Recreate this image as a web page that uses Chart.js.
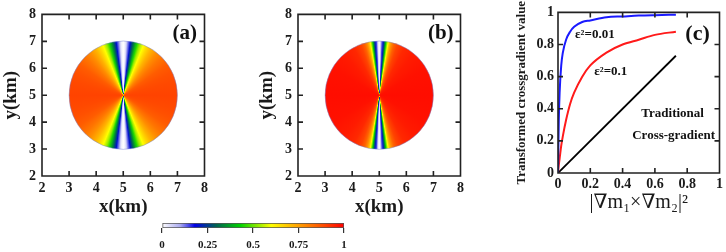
<!DOCTYPE html>
<html>
<head>
<meta charset="utf-8">
<script src="https://cdn.jsdelivr.net/npm/chart.js@4"></script>
<style>
  html, body { margin: 0; padding: 0; background: #fff; }
  body { width: 726px; height: 252px; position: relative; overflow: hidden; }
  canvas, svg.frame { position: absolute; }
  svg.frame { pointer-events: none; }
</style>
</head>
<body>
<canvas id="chartA" width="212" height="218" style="left:0;top:0"></canvas>
<canvas id="chartB" width="212" height="218" style="left:256px;top:0"></canvas>
<canvas id="chartC" width="221" height="218" style="left:505px;top:0"></canvas>
<canvas id="colorbar" width="205" height="37" style="left:150px;top:215px"></canvas>
<script>
// ---- data ----
const mapTicks = [2, 3, 4, 5, 6, 7, 8];
const circleCenter = [5, 5];   // km
const circleRadius = 2;        // km

// value vs angle from the vertical axis (deg), mirrored into all four quadrants
const wedgeAnglesA = [0, 2, 3.5, 5, 7.5, 10, 12, 15, 18, 22, 26, 31, 38, 45, 55, 65, 75, 90];
const wedgeValuesA = [0, 0.02, 0.06, 0.12, 0.2, 0.28, 0.35, 0.45, 0.53, 0.6, 0.66, 0.72, 0.78, 0.82, 0.86, 0.88, 0.89, 0.9];
const wedgeAnglesB = [0, 1, 2, 3, 4.5, 6, 7, 8, 9.5, 11, 13, 16, 20, 28, 40, 60, 90];
const wedgeValuesB = [0, 0.03, 0.1, 0.15, 0.22, 0.33, 0.42, 0.5, 0.6, 0.7, 0.78, 0.85, 0.9, 0.94, 0.96, 0.975, 0.98];

// colormap
const cmapStops = [0, 0.1, 0.18, 0.3, 0.43, 0.6, 0.75, 0.88, 1];
const cmapColors = [[255,255,255],[170,170,240],[0,0,230],[0,100,80],[0,210,0],[255,255,0],[255,160,0],[255,80,0],[255,0,0]];
const colorbarTicks = [0, 0.25, 0.5, 0.75, 1];

// panel (c)
const gradTicks = [0, 0.2, 0.4, 0.6, 0.8, 1];
const crossX = [0, 0.005, 0.01, 0.02, 0.03, 0.05, 0.075, 0.1, 0.15, 0.2, 0.3, 0.4, 0.5, 0.6, 0.73];
const eps001 = [0, 0.33, 0.5, 0.67, 0.75, 0.83, 0.88, 0.91, 0.94, 0.95, 0.97, 0.975, 0.98, 0.983, 0.986];
const eps01  = [0, 0.05, 0.09, 0.17, 0.23, 0.33, 0.43, 0.5, 0.6, 0.67, 0.75, 0.8, 0.83, 0.86, 0.88];
const traditionalX = [0, 0.73];
const traditionalY = [0, 0.73];

Chart.defaults.font.family = "'Liberation Serif', 'DejaVu Serif', serif";
Chart.defaults.font.weight = 'bold';
Chart.defaults.font.size = 14;
Chart.defaults.color = '#1a1a1a';
Chart.defaults.animation = false;
Chart.defaults.plugins.legend.display = false;
Chart.defaults.plugins.tooltip.enabled = false;

function colorAt(v) {
    for (let i = 1; i < cmapStops.length; i++) {
        if (v <= cmapStops[i]) {
            const t = (v - cmapStops[i - 1]) / (cmapStops[i] - cmapStops[i - 1]);
            const a = cmapColors[i - 1], b = cmapColors[i];
            const c = a.map((ch, k) => Math.round(ch + (b[k] - ch) * t));
            return `rgb(${c[0]},${c[1]},${c[2]})`;
        }
    }
    const l = cmapColors[cmapColors.length - 1];
    return `rgb(${l[0]},${l[1]},${l[2]})`;
}

// disc coloured by angle
const wedgePlugin = {
    id: 'wedge',
    beforeDatasetsDraw(chart, args, opts) {
        if (!opts.angles) return;
        const {ctx, scales: {x, y}} = chart;
        const cx = x.getPixelForValue(circleCenter[0]);
        const cy = y.getPixelForValue(circleCenter[1]);
        const r = x.getPixelForValue(circleCenter[0] + circleRadius) - cx;
        const g = ctx.createConicGradient(-Math.PI / 2, cx, cy);
        opts.angles.forEach((ang, i) => {
            const col = colorAt(opts.values[i]);
            [ang, 180 - ang, 180 + ang, 360 - ang].forEach(d => g.addColorStop(d / 360, col));
        });
        ctx.save();
        ctx.beginPath();
        ctx.arc(cx, cy, r, 0, Math.PI * 2);
        ctx.fillStyle = g;
        ctx.fill();
        ctx.lineWidth = 0.8;
        ctx.strokeStyle = 'rgba(120,130,210,0.6)';
        ctx.stroke();
        ctx.restore();
    }
};

// text labels in data coordinates
const textPlugin = {
    id: 'texts',
    afterDraw(chart, args, opts) {
        const {ctx, scales: {x, y}} = chart;
        ctx.save();
        ctx.fillStyle = '#111';
        ctx.textAlign = 'center';
        ctx.textBaseline = 'middle';
        (opts.items || []).forEach(it => {
            ctx.font = it.font;
            ctx.fillText(it.text, x.getPixelForValue(it.x), y.getPixelForValue(it.y));
        });
        ctx.restore();
    }
};

// box + inward ticks as an svg layer over the canvas, placed from the chart's own scales
function addFrame(chart) {
    const canvas = chart.canvas;
    const a = chart.chartArea;
    const xs = chart.scales.x, ys = chart.scales.y;
    const len = 5;
    const ns = 'http://www.w3.org/2000/svg';
    const svg = document.createElementNS(ns, 'svg');
    svg.setAttribute('class', 'frame');
    svg.setAttribute('width', canvas.width);
    svg.setAttribute('height', canvas.height);
    svg.style.left = canvas.style.left;
    svg.style.top = canvas.style.top;
    let d = `M${a.left},${a.top}H${a.right}V${a.bottom}H${a.left}Z`;
    xs.ticks.forEach(t => {
        const px = xs.getPixelForValue(t.value);
        d += `M${px},${a.bottom}v${-len}M${px},${a.top}v${len}`;
    });
    ys.ticks.forEach(t => {
        const py = ys.getPixelForValue(t.value);
        d += `M${a.left},${py}h${len}M${a.right},${py}h${-len}`;
    });
    const path = document.createElementNS(ns, 'path');
    path.setAttribute('d', d);
    path.setAttribute('fill', 'none');
    path.setAttribute('stroke', '#222');
    path.setAttribute('stroke-width', '1.6');
    svg.appendChild(path);
    document.body.appendChild(svg);
}

function setTicks(arr) {
    return scale => { scale.ticks = arr.map(v => ({value: v})); };
}
const plainLabel = v => String(v);

function mapChart(id, angles, values, tag) {
    return new Chart(document.getElementById(id), {
        type: 'scatter',
        data: {datasets: []},
        options: {
            responsive: false,
            layout: {padding: {top: 12, right: 6}},
            scales: {
                x: {
                    type: 'linear', min: 2, max: 8,
                    afterBuildTicks: setTicks(mapTicks),
                    afterFit: s => { s.height = 42; },
                    grid: {display: false, drawTicks: false},
                    border: {display: false},
                    ticks: {padding: 4, font: {size: 14}, callback: plainLabel},
                    title: {display: true, text: 'x(km)', font: {size: 19, weight: 'bold'}, padding: 0}
                },
                y: {
                    type: 'linear', min: 2, max: 8,
                    afterBuildTicks: setTicks(mapTicks),
                    afterFit: s => { s.width = 42; },
                    grid: {display: false, drawTicks: false},
                    border: {display: false},
                    ticks: {padding: 6, font: {size: 14}, callback: plainLabel},
                    title: {display: true, text: 'y(km)', font: {size: 19, weight: 'bold'}, padding: 0}
                }
            },
            plugins: {
                wedge: {angles: angles, values: values},
                texts: {items: [{text: tag, x: 7.27, y: 7.27, font: "bold 21px 'Liberation Serif', serif"}]}
            }
        },
        plugins: [wedgePlugin, textPlugin]
    });
}

const chartA = mapChart('chartA', wedgeAnglesA, wedgeValuesA, '(a)');
const chartB = mapChart('chartB', wedgeAnglesB, wedgeValuesB, '(b)');

const toPoints = (xs, ys) => xs.map((v, i) => ({x: v, y: ys[i]}));

const chartC = new Chart(document.getElementById('chartC'), {
    type: 'line',
    data: {
        datasets: [
            {data: toPoints(crossX, eps001), borderColor: '#1a1aff', borderWidth: 2, cubicInterpolationMode: 'monotone'},
            {data: toPoints(crossX, eps01), borderColor: '#ff1a1a', borderWidth: 2, cubicInterpolationMode: 'monotone'},
            {data: toPoints(traditionalX, traditionalY), borderColor: '#000', borderWidth: 1.8}
        ]
    },
    options: {
        responsive: false,
        layout: {padding: {top: 10, right: 6}},
        elements: {point: {radius: 0}},
        scales: {
            x: {
                type: 'linear', min: 0, max: 1,
                afterBuildTicks: setTicks(gradTicks),
                afterFit: s => { s.height = 45; },
                grid: {display: false, drawTicks: false},
                border: {display: false},
                ticks: {padding: 3, font: {size: 14}, callback: plainLabel},
                title: {display: true, text: '|∇m₁×∇m₂|²', font: {size: 20, weight: 'normal'}, padding: {top: 0, bottom: 3}}
            },
            y: {
                type: 'linear', min: 0, max: 1,
                afterBuildTicks: setTicks(gradTicks),
                afterFit: s => { s.width = 53; },
                grid: {display: false, drawTicks: false},
                border: {display: false},
                ticks: {padding: 4, font: {size: 14}, callback: plainLabel},
                title: {display: true, text: 'Transformed crossgradient value', font: {size: 13, weight: 'bold'}, padding: {top: 9, bottom: 0}}
            }
        },
        plugins: {
            texts: {items: [
                {text: '(c)', x: 0.864, y: 0.865, font: "bold 22px 'Liberation Serif', serif"},
                {text: 'ε²=0.01', x: 0.228, y: 0.859, font: "bold 13px 'Liberation Serif', serif"},
                {text: 'ε²=0.1', x: 0.327, y: 0.632, font: "bold 13px 'Liberation Serif', serif"},
                {text: 'Traditional', x: 0.71, y: 0.368, font: "bold 13px 'Liberation Serif', serif"},
                {text: 'Cross-gradient', x: 0.716, y: 0.233, font: "bold 13px 'Liberation Serif', serif"}
            ]}
        }
    },
    plugins: [textPlugin]
});

[chartA, chartB, chartC].forEach(addFrame);

// colour bar
new Chart(document.getElementById('colorbar'), {
    type: 'bar',
    data: {
        labels: ['scale'],
        datasets: [{
            data: [[0, 1]],
            backgroundColor: c => {
                const a = c.chart.chartArea;
                if (!a) return null;
                const g = c.chart.ctx.createLinearGradient(a.left, 0, a.right, 0);
                cmapStops.forEach((s, i) => g.addColorStop(s, `rgb(${cmapColors[i].join(',')})`));
                return g;
            },
            borderColor: '#555',
            borderWidth: 1,
            borderSkipped: false,
            barPercentage: 1,
            categoryPercentage: 1
        }]
    },
    options: {
        responsive: false,
        indexAxis: 'y',
        layout: {padding: {left: 12, right: 11, top: 8}},
        scales: {
            x: {
                type: 'linear', min: 0, max: 1,
                afterBuildTicks: setTicks(colorbarTicks),
                afterFit: s => { s.height = 24; },
                grid: {drawOnChartArea: false, tickLength: 5, color: '#333', lineWidth: 1.2},
                border: {display: false},
                ticks: {padding: 6, font: {size: 11}, callback: plainLabel}
            },
            y: {display: false}
        }
    }
});
</script>
</body>
</html>
